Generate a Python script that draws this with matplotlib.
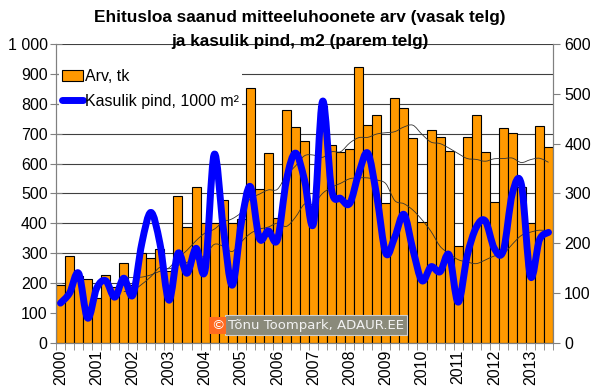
import numpy as np
import matplotlib
matplotlib.use("Agg")
import matplotlib.pyplot as plt
from matplotlib.path import Path
from matplotlib.patches import PathPatch, Patch
from matplotlib.lines import Line2D
import pandas as pd

plt.rcParams["font.family"] = ["Liberation Sans", "DejaVu Sans"]

# quarterly data, 2000 Q1 .. 2013 Q3
years = list(range(2000, 2014))
arv_tk = [194, 292, 225, 215, 150, 226, 186, 266, 195, 300, 284, 314, 240,
          493, 389, 523, 400, 400, 478, 400, 414, 852, 515, 637, 417, 779,
          721, 674, 433, 792, 663, 640, 649, 922, 729, 764, 467, 821, 787,
          687, 406, 714, 689, 642, 323, 688, 763, 638, 472, 720, 701, 523,
          400, 726, 654]
pind_1000m2 = [80, 100, 140, 50, 110, 125, 92, 130, 96, 200, 262, 200, 86,
               180, 140, 190, 146, 378, 233, 116, 240, 314, 210, 225, 207,
               327, 381, 327, 240, 485, 307, 290, 280, 340, 381, 294, 180,
               213, 258, 187, 125, 153, 143, 177, 82, 175, 232, 245, 190,
               185, 300, 318, 134, 207, 222]

ORANGE = "#FF9900"
BLUE = "#0000FF"


def smooth_path(x, y):
    """Excel-like smoothed line as cubic bezier path."""
    x = np.asarray(x, float)
    y = np.asarray(y, float)
    n = len(x)
    verts = [(x[0], y[0])]
    codes = [Path.MOVETO]
    for i in range(n - 1):
        x0, y0 = (x[i - 1], y[i - 1]) if i > 0 else (x[i], y[i])
        x3, y3 = (x[i + 2], y[i + 2]) if i + 2 < n else (x[i + 1], y[i + 1])
        c1 = (x[i] + (x[i + 1] - x0) / 6, y[i] + (y[i + 1] - y0) / 6)
        c2 = (x[i + 1] - (x3 - x[i]) / 6, y[i + 1] - (y3 - y[i]) / 6)
        verts += [c1, c2, (x[i + 1], y[i + 1])]
        codes += [Path.CURVE4] * 3
    return Path(verts, codes)


def add_smooth(ax, x, y, **kw):
    p = PathPatch(smooth_path(x, y), fill=False, transform=ax.transData, **kw)
    ax.add_patch(p)
    return p


xs = np.arange(len(arv_tk))
trend_arv = pd.Series(arv_tk).rolling(8).mean()
trend_pind = pd.Series(pind_1000m2).rolling(8).mean()

fig = plt.figure(figsize=(6.0, 3.92), dpi=100)
ax = fig.add_axes([0.0933, 0.125, 0.8284, 0.7628])
ax2 = ax.twinx()

ax.bar(xs, arv_tk, width=1.0, color=ORANGE, edgecolor="black",
       linewidth=0.8, zorder=2)
ok = trend_arv.notna().values
add_smooth(ax, xs[ok], trend_arv[ok].values, edgecolor="#333333",
           linewidth=0.6, zorder=3)

ax.set_xlim(-0.5, len(xs) - 0.5)
ax.set_ylim(0, 1000)
ax.set_yticks(range(0, 1001, 100))
ax.set_yticklabels(["0", "100", "200", "300", "400", "500", "600", "700",
                    "800", "900", "1 000"])
ax.grid(axis="y", color="#404040", linewidth=0.8, zorder=0)
ax.set_axisbelow(True)

ax.set_xticks(xs[::4])
ax.set_xticklabels([str(y) for y in years], rotation=90)
ax.set_xticks(np.arange(-0.5, len(xs), 1), minor=True)
ax.tick_params(axis="x", which="major", length=0, pad=5, labelsize=11.5)
ax.tick_params(axis="x", which="minor", length=5, color="#808080",
               direction="out")
ax.tick_params(axis="y", length=8, direction="inout", color="#808080",
               labelsize=11.5, pad=2)

ok2 = trend_pind.notna().values
add_smooth(ax2, xs[ok2], trend_pind[ok2].values, edgecolor="#333333",
           linewidth=0.6, zorder=3)
add_smooth(ax2, xs, pind_1000m2, edgecolor=BLUE, linewidth=5,
           capstyle="round", joinstyle="round", zorder=4)
ax2.set_ylim(0, 600)
ax2.set_yticks(range(0, 601, 100))
ax2.tick_params(axis="y", length=5, direction="out", color="#808080",
                labelsize=11.5, pad=3)

for a in (ax, ax2):
    for s in a.spines.values():
        s.set_color("#808080")
    a.spines["top"].set_visible(False)

handles = [Patch(facecolor=ORANGE, edgecolor="black", linewidth=0.8),
           Line2D([], [], color=BLUE, linewidth=5, solid_capstyle="round")]
leg = ax2.legend(handles, ["Arv, tk", "Kasulik pind, 1000 m²"],
                 loc="upper left", bbox_to_anchor=(0.0, 0.937),
                 fontsize=11.5, frameon=True, facecolor="white",
                 edgecolor="none", framealpha=1, fancybox=False,
                 handlelength=1.3, handletextpad=0.1, borderpad=0.2,
                 labelspacing=0.6, borderaxespad=0.2)
leg.set_zorder(10)

fig.text(0.5, 0.955, "Ehitusloa saanud mitteeluhoonete arv (vasak telg)",
         ha="center", va="center", fontsize=12.4, fontweight="bold")
fig.text(0.5, 0.893, "ja kasulik pind, m2 (parem telg)",
         ha="center", va="center", fontsize=12.4, fontweight="bold")

fig.text(0.3517, 0.1705, "©", ha="left", va="center", fontsize=9.5,
         color="white", family="DejaVu Sans",
         bbox=dict(boxstyle="square,pad=0.15", facecolor="#FF6A20",
                   edgecolor="none"), zorder=21)
fig.text(0.3800, 0.1705, "Tõnu Toompark, ADAUR.EE", ha="left", va="center",
         fontsize=9.5, color="#F2F2F2", family="DejaVu Sans", zorder=20,
         bbox=dict(boxstyle="square,pad=0.25", facecolor="#8A8A7A",
                   edgecolor="#D0D0D0", linewidth=0.8))

fig.savefig("out.png", dpi=100, facecolor="white")
